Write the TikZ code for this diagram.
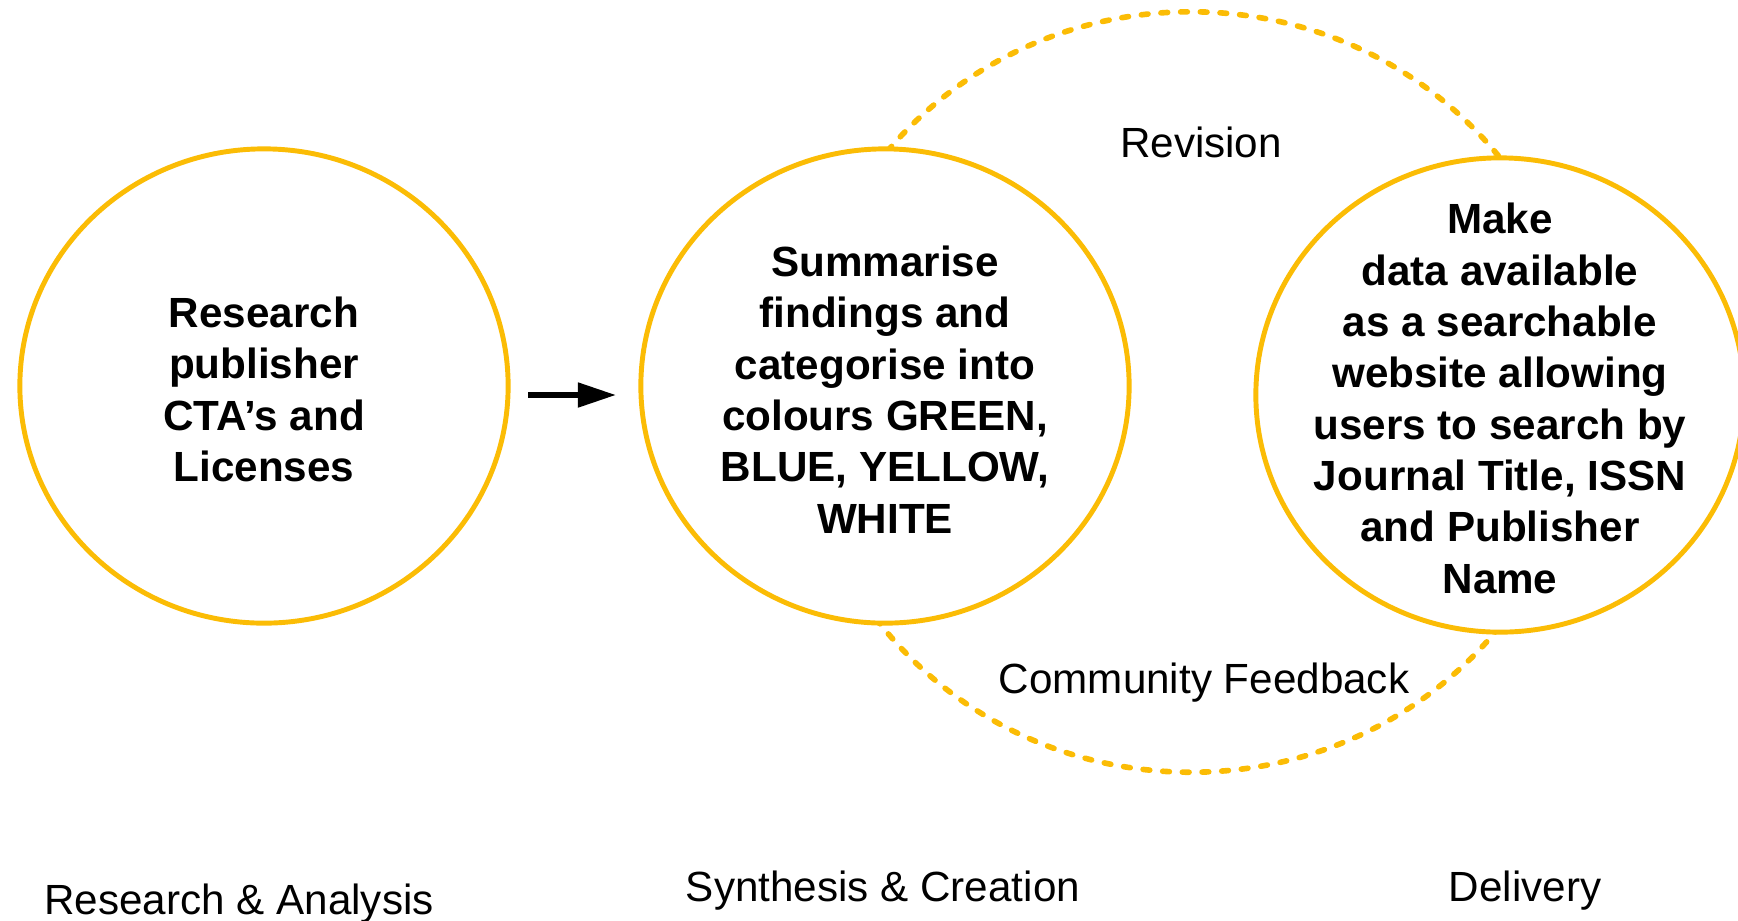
\documentclass[tikz,border=0pt]{standalone}
\usepackage{fontspec}
\setmainfont{Liberation Sans}
\usepackage{xcolor}
\usepackage{tikz}
\usetikzlibrary{arrows.meta, shapes.geometric}

\definecolor{amber}{HTML}{FBBC05}

\begin{document}
\begin{tikzpicture}[x=0.01cm, y=-0.01cm,
    stage/.style={ellipse, draw=amber, line width=1.4pt, fill=white,
        inner sep=0pt, outer sep=0pt, minimum width=4.88cm, minimum height=4.74cm},
    loopline/.style={ellipse, draw=amber, line width=1.6pt, line cap=round,
        dash pattern=on 1.9pt off 3.7pt, inner sep=0pt, minimum width=7.84cm, minimum height=7.6cm},
    boldtext/.style={font=\fontsize{12}{14.6}\selectfont\bfseries, align=center, yshift=-1pt},
    plaintext/.style={font=\fontsize{12}{14.4}\selectfont, anchor=base}]
    \useasboundingbox (0,0) rectangle (1738,920);

    % feedback loop behind the last two stages
    \node[loopline] (loop) at (1191,392) {};

    \node[stage] (c1) at (264,386) {};
    \node[stage] (c2) at (885,386) {};
    \node[stage] (c3) at (1500,395) {};

    \node[boldtext] (t1) at (c1) {Research\\publisher\\CTA’s and\\Licenses};
    \node[boldtext] (t2) at (c2) {Summarise\\findings and\\categorise into\\colours GREEN,\\BLUE, YELLOW,\\WHITE};
    \node[boldtext] (t3) at (c3) {Make\\data available\\as a searchable\\website allowing\\users to search by\\Journal Title, ISSN\\and Publisher\\Name};

    \coordinate (arrowrow) at (570,395);
    \draw[-{Triangle[length=10.8pt, width=6.8pt]}, line width=1.5pt, shorten <=5.7pt, shorten >=7.1pt]
        (c1.east |- arrowrow) -- (c2.west |- arrowrow);

    \node[plaintext] (revision) at (1201,157) {Revision};
    \node[plaintext] (feedback) at (1204,693) {Community Feedback};

    % phase labels
    \node[plaintext] (phase1) at (239,914) {Research \& Analysis};
    \node[plaintext] (phase2) at (883,901) {Synthesis \& Creation};
    \node[plaintext] (phase3) at (1525,901) {Delivery};
\end{tikzpicture}
\end{document}
